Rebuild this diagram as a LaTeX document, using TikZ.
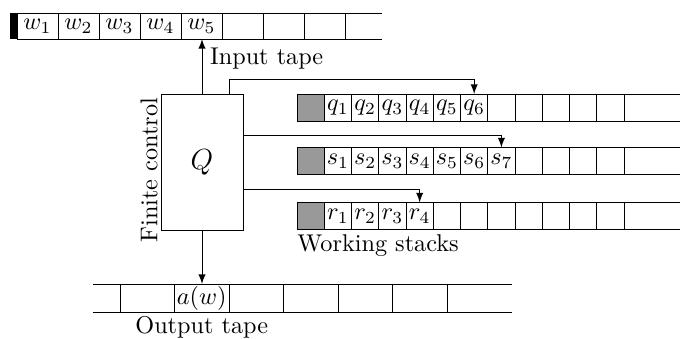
\documentclass[tikz,border=0pt]{standalone}
\usepackage{tikz}
\usetikzlibrary{calc}

\newcommand{\unitpx}{0.4125pt}

\tikzset{
    incell/.style={draw, anchor=west, inner sep=0pt, outer sep=0pt, minimum width=41*\unitpx, minimum height=26*\unitpx},
    stkcell/.style={draw, anchor=west, inner sep=0pt, outer sep=0pt, minimum width=27.25*\unitpx, minimum height=27*\unitpx},
    outcell/.style={draw, anchor=west, inner sep=0pt, outer sep=0pt, minimum width=54.5*\unitpx, minimum height=28*\unitpx},
}

\begin{document}
\begin{tikzpicture}[>=latex, x=\unitpx, y=-\unitpx]
            \useasboundingbox (0, 0) rectangle (680, 338);

            % input tape
            \fill (10, 13) rectangle (17, 39);
            \draw (17, 13) -- (382, 13);
            \draw (17, 39) -- (382, 39);
            \foreach \i in {1,...,8}
                \node[incell] (in\i) at ({17+41*(\i-1)}, 26) {\ifnum\i<6 $w_{\i}$\fi};

            % finite control
            \node[draw, minimum width=82*\unitpx, minimum height=136*\unitpx] (ctrl) at (202, 162) {\large $Q$};
            \node[rotate=90, anchor=south, inner sep=1pt] (ctrllabel) at ($(ctrl.west)+(0,8)$) {Finite control};

            % working stacks
            \foreach \stk/\y/\n in {q/107.5/6, s/161/7, r/216/4} {
                \node[stkcell, fill=black!40] (\stk0) at (297, \y) {};
                \foreach \k in {1,...,11}
                    \node[stkcell] (\stk\k) at ({324.3+27.25*(\k-1)}, \y) {\ifnum\k>\n\else$\stk_{\k}$\fi};
                \draw (\stk0.north west) -- (\stk0.north west -| 680,0);
                \draw (\stk0.south west) -- (\stk0.south west -| 680,0);
            }

            % output tape
            \draw (93, 284) -- (512, 284);
            \draw (93, 312) -- (512, 312);
            \foreach \k in {1,...,6}
                \node[outcell] (out\k) at ({120+54.5*(\k-1)}, 298) {\ifnum\k=2 $a(w)$\fi};

            % heads
            \draw[->] (ctrl.north) -- (ctrl.north |- in5.south);
            \draw[->] (ctrl.south) -- (ctrl.south |- out2.north);
            \draw[->] ($(ctrl.north east)+(-14,0)$) -- ++(0, -14) -| (q6.north);
            \draw[->] (ctrl.east |- 0,135) -| (s7.north);
            \draw[->] (ctrl.east |- 0,189) -| (r4.north);

            \node[below right] (inlabel) at (in5.south) {Input tape};
            \node[anchor=north west, inner xsep=0pt, inner ysep=2pt] (worklabel) at (r0.south west) {Working stacks};
            \node[below, inner sep=1.5pt] (outlabel) at (out2.south) {Output tape};
        \end{tikzpicture}
\end{document}
